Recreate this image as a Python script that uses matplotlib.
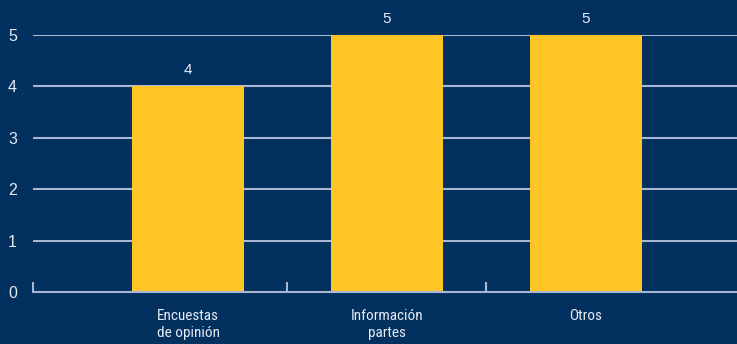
import matplotlib.pyplot as plt
from matplotlib import font_manager

# Chart data
categories = ["Encuestas\nde opinión", "Información\npartes", "Otros"]
values = [4, 5, 5]
y_ticks = [0, 1, 2, 3, 4, 5]

BG = "#02305f"
BAR = "#ffc425"
GRID = "#aab7d3"
TEXT = "#e6eaf2"

names = {f.name for f in font_manager.fontManager.ttflist}
narrow = next((n for n in ["Liberation Sans Narrow", "Roboto Condensed",
                           "Open Sans Condensed", "Liberation Sans"]
               if n in names), "DejaVu Sans")
narrow_size = 11 if narrow != "Liberation Sans" else 9.5


def main():
    fig = plt.figure(figsize=(7.37, 3.44), dpi=100, facecolor=BG)
    ax = fig.add_axes([33 / 737, 52 / 344, 1 - 33 / 737, 257 / 344])
    ax.set_facecolor(BG)

    x = list(range(len(categories)))
    ax.set_xlim(-0.779, 2.759)
    ax.set_ylim(0, 5)

    # horizontal grid lines behind the bars
    for t in y_ticks[1:]:
        ax.axhline(t, color=GRID, lw=1.5, zorder=1)

    bars = ax.bar(x, values, width=0.563, color=BAR, zorder=2)
    for b, v in zip(bars, values):
        ax.text(b.get_x() + b.get_width() / 2, v + 0.18, str(v),
                ha="center", va="bottom", color=TEXT, fontsize=11,
                family="Liberation Sans", clip_on=False)

    for s in ["top", "right", "left"]:
        ax.spines[s].set_visible(False)
    ax.spines["bottom"].set_color(GRID)
    ax.spines["bottom"].set_linewidth(1.5)
    ax.spines["bottom"].set_zorder(3)

    ax.set_yticks(y_ticks)
    ax.set_yticklabels([str(t) for t in y_ticks], color=TEXT, fontsize=11.5,
                       family="Liberation Sans")
    ax.tick_params(axis="y", length=0, pad=11.5)

    # category boundary ticks pointing up from the axis
    ax.set_xticks([-0.779, 0.5, 1.5])
    ax.set_xticklabels([])
    ax.tick_params(axis="x", direction="in", length=7, width=1.5, color=GRID)
    for xi, lab in zip(x, categories):
        ax.text(xi, -0.33, lab, ha="center", va="top", color=TEXT,
                fontsize=narrow_size, family=narrow, linespacing=1.3)

    fig.savefig("out.png", dpi=100, facecolor=BG)


if __name__ == "__main__":
    main()
